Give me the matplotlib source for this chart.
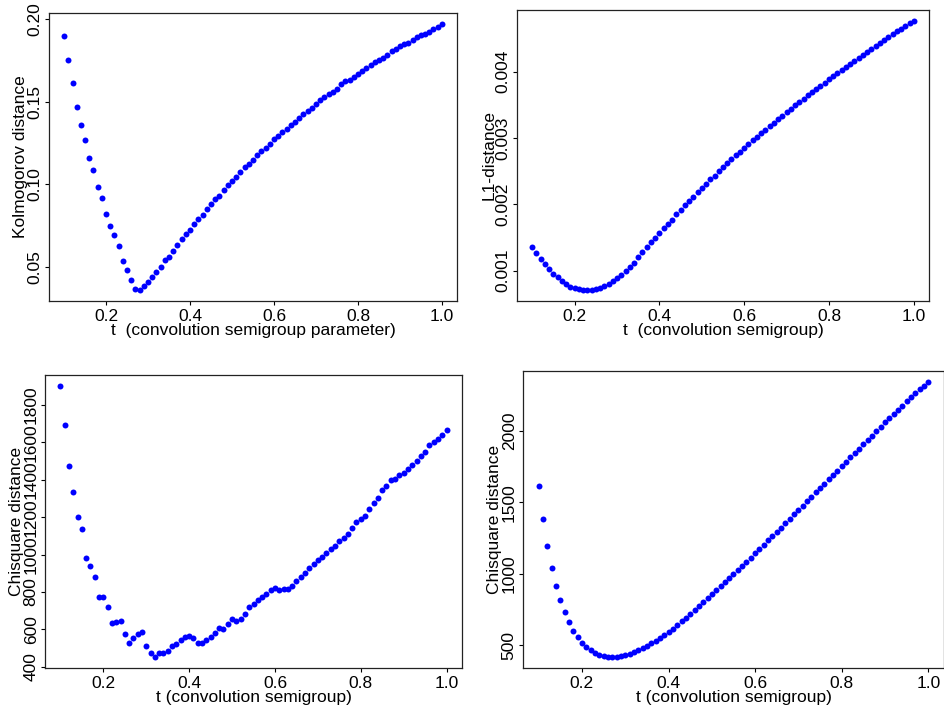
import matplotlib
matplotlib.use("Agg")
import matplotlib.pyplot as plt
import numpy as np

plt.rcParams['font.family'] = ['Liberation Sans', 'DejaVu Sans']

# semigroup parameter t = 0.10, 0.11, ..., 1.00
t = np.round(np.arange(10, 101) / 100.0, 2)

kolmogorov = [0.190, 0.175, 0.161, 0.147, 0.136, 0.127, 0.116, 0.1085, 0.098, 0.0915,
              0.082, 0.0745, 0.069, 0.0623, 0.0533, 0.048, 0.0417, 0.0362, 0.0356, 0.038,
              0.0404, 0.0434, 0.0465, 0.0495, 0.0537, 0.056, 0.0597, 0.0633, 0.0670, 0.0700,
              0.0724, 0.0755, 0.0791, 0.0815, 0.0846, 0.0882, 0.0912, 0.0930, 0.0961, 0.0997,
              0.1021, 0.1045, 0.1076, 0.1106, 0.1124, 0.1148, 0.1178, 0.1203, 0.1221, 0.1245,
              0.1275, 0.1293, 0.1318, 0.1336, 0.1360, 0.1378, 0.1402, 0.1427, 0.1445, 0.1463,
              0.1487, 0.1511, 0.1530, 0.1548, 0.1560, 0.1578, 0.1608, 0.1627, 0.1633, 0.1651,
              0.1669, 0.1687, 0.1705, 0.1724, 0.1742, 0.1754, 0.1766, 0.1784, 0.1809, 0.1821,
              0.1839, 0.1851, 0.1857, 0.1875, 0.1893, 0.1906, 0.1912, 0.1924, 0.1942, 0.1954,
              0.1972]

l1 = [0.00136, 0.00126, 0.00117, 0.00110, 0.00102, 0.000955, 0.000905, 0.000844, 0.000794, 0.000759,
      0.000734, 0.000719, 0.000714, 0.000704, 0.000714, 0.000719, 0.000734, 0.000764, 0.000794, 0.000839,
      0.000884, 0.00094, 0.00100, 0.001055, 0.00112, 0.0012, 0.001276, 0.001352, 0.001427, 0.001497,
      0.001563, 0.001638, 0.001709, 0.001769, 0.001849, 0.001915, 0.001985, 0.002045, 0.002116, 0.002181,
      0.002246, 0.002312, 0.002377, 0.002432, 0.002497, 0.002558, 0.002618, 0.002678, 0.002739, 0.002794,
      0.002854, 0.002910, 0.002965, 0.003020, 0.003070, 0.003126, 0.003181, 0.003231, 0.003286, 0.003337,
      0.003387, 0.003442, 0.003492, 0.003543, 0.003593, 0.003643, 0.003693, 0.003744, 0.003789, 0.003834,
      0.003884, 0.003935, 0.003985, 0.00403, 0.004075, 0.00412, 0.004166, 0.004211, 0.004256, 0.004302,
      0.004347, 0.004392, 0.004437, 0.004477, 0.004523, 0.004568, 0.004608, 0.004648, 0.004693, 0.004734,
      0.004769]

chisq_a = [1903, 1696, 1476, 1333, 1202, 1136, 982, 940, 881, 775,
           775, 722, 632, 637, 642, 573, 526, 552, 573, 584,
           510, 473, 451, 473, 473, 483, 510, 520, 542, 558,
           563, 552, 526, 526, 542, 558, 579, 605, 600, 627,
           653, 642, 653, 680, 722, 738, 759, 775, 791, 812,
           823, 812, 818, 818, 834, 860, 881, 903, 929, 950,
           972, 988, 1009, 1030, 1046, 1073, 1089, 1110, 1142, 1173,
           1189, 1205, 1243, 1274, 1301, 1343, 1365, 1397, 1407, 1428,
           1439, 1460, 1481, 1503, 1529, 1551, 1588, 1604, 1620, 1641,
           1667]

chisq_b = [1613, 1380, 1194, 1040, 915, 817, 733, 663, 600, 558,
           516, 488, 467, 446, 432, 425, 418, 418, 418, 425,
           432, 439, 453, 467, 481, 495, 516, 530, 551, 572,
           593, 614, 642, 670, 691, 719, 747, 775, 803, 831,
           859, 887, 915, 943, 970, 998, 1026, 1054, 1082, 1110,
           1145, 1173, 1201, 1236, 1264, 1292, 1320, 1355, 1383, 1418,
           1446, 1474, 1508, 1536, 1571, 1599, 1627, 1662, 1690, 1718,
           1753, 1781, 1816, 1844, 1872, 1907, 1935, 1963, 1998, 2026,
           2060, 2088, 2116, 2144, 2172, 2207, 2235, 2263, 2291, 2312,
           2340]

xticks = [0.2, 0.4, 0.6, 0.8, 1.0]
xticklabels = ["0.2", "0.4", "0.6", "0.8", "1.0"]

yticks1 = [0.05, 0.10, 0.15, 0.20]
yticklabels1 = ["0.05", "0.10", "0.15", "0.20"]
yticks2 = [0.001, 0.002, 0.003, 0.004]
yticklabels2 = ["0.001", "0.002", "0.003", "0.004"]
yticks3 = [400, 600, 800, 1000, 1200, 1400, 1600, 1800]
yticklabels3 = ["400", "600", "800", "1000", "1200", "1400", "1600", "1800"]
yticks4 = [500, 1000, 1500, 2000]
yticklabels4 = ["500", "1000", "1500", "2000"]

W, H = 945, 715
fig = plt.figure(figsize=(9.45, 7.15), dpi=100)

def make_axes(l, r, top, bot):
    return fig.add_axes([l / W, 1 - bot / H, (r - l) / W, (bot - top) / H])

def panel(ax, y, yt, ytl, xlab, ylab):
    ax.plot(t, y, 'o', color='#0000FF', markersize=4.3, markeredgewidth=0)
    ax.margins(0.04)
    ax.set_xticks(xticks)
    ax.set_xticklabels(xticklabels)
    ax.set_yticks(yt)
    ax.set_yticklabels(ytl, rotation=90, va='center')
    ax.tick_params(direction='out', length=3, width=0.8, labelsize=12.5,
                   colors='black')
    ax.tick_params(axis='x', pad=3)
    ax.tick_params(axis='y', pad=1.5)
    for s in ax.spines.values():
        s.set_linewidth(0.9)
        s.set_color('#222222')
    ax.set_xlabel(xlab, fontsize=12.5, labelpad=-1)
    ax.set_ylabel(ylab, fontsize=12.5, labelpad=-0.5)

ax1 = make_axes(49, 457, 13, 301)
panel(ax1, kolmogorov, yticks1, yticklabels1,
      "t  (convolution semigroup parameter)", "Kolmogorov distance")

ax2 = make_axes(517, 929, 10, 301)
panel(ax2, l1, yticks2, yticklabels2,
      "t  (convolution semigroup)", "L1-distance")

ax3 = make_axes(45, 462, 375, 668)
panel(ax3, chisq_a, yticks3, yticklabels3,
      "t (convolution semigroup)", "Chisquare distance")

ax4 = make_axes(523, 944, 371, 668)
panel(ax4, chisq_b, yticks4, yticklabels4,
      "t (convolution semigroup)", "Chisquare distance")

fig.savefig("out.png", dpi=100)
